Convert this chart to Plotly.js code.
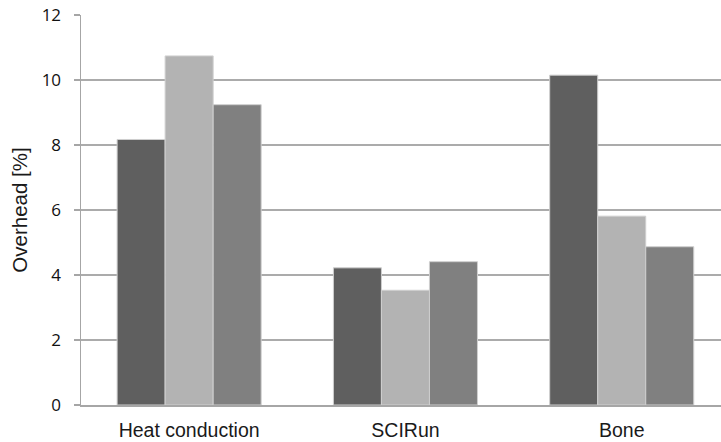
<!DOCTYPE html>
<html>
<head>
<meta charset="utf-8">
<script src="https://cdn.plot.ly/plotly-3.0.1.min.js"></script>
<style>html,body{margin:0;padding:0;background:#fff;}#chart{width:721px;height:442px;}</style>
</head>
<body>
<div id="chart"></div>
<script>
var categories = ["Heat conduction", "SCIRun", "Bone"];
var series1 = [8.17, 4.22, 10.15];
var series2 = [10.74, 3.53, 5.81];
var series3 = [9.24, 4.41, 4.87];
var seriesNames = ["Series 1", "Series 2", "Series 3"];
var seriesColors = ["#5f5f5f", "#b3b3b3", "#808080"];
var yTicks = [0, 2, 4, 6, 8, 10, 12];

var allSeries = [series1, series2, series3];
var traces = allSeries.map(function (vals, i) {
  return {
    type: "bar",
    name: seriesNames[i],
    x: categories,
    y: vals,
    marker: { color: seriesColors[i], line: { color: "#cfcfcf", width: 1 } },
    hoverinfo: "x+y"
  };
});

var layout = {
  width: 721,
  height: 442,
  margin: { l: 81, r: 0, t: 15, b: 37, pad: 0 },
  paper_bgcolor: "#ffffff",
  plot_bgcolor: "#ffffff",
  showlegend: false,
  barmode: "group",
  bargap: 0.334,
  bargroupgap: 0,
  font: { family: "Liberation Sans, Arial, sans-serif", color: "#222" },
  xaxis: {
    type: "category",
    range: [-0.5, 2.459],
    showgrid: false,
    showline: true,
    linecolor: "#a6a6a6",
    linewidth: 1.5,
    ticks: "",
    ticklabelstandoff: 7,
    tickfont: { family: "Liberation Sans, Arial, sans-serif", size: 19.5, color: "#1a1a1a" },
    zeroline: false
  },
  yaxis: {
    range: [0, 12],
    tickvals: yTicks,
    ticktext: yTicks.map(String),
    showgrid: true,
    gridcolor: "#ababab",
    gridwidth: 1.5,
    showline: true,
    linecolor: "#a6a6a6",
    linewidth: 1.5,
    ticks: "outside",
    ticklen: 6,
    tickwidth: 1.5,
    tickcolor: "#a6a6a6",
    ticklabelstandoff: 9,
    tickfont: { family: "Open Sans, sans-serif", size: 17, color: "#111111" },
    zeroline: false,
    title: { text: "Overhead [%]", font: { family: "Liberation Sans, Arial, sans-serif", size: 20.5, color: "#1a1a1a" }, standoff: 8 }
  }
};

Plotly.newPlot("chart", traces, layout, { displayModeBar: false, staticPlot: true });
</script>
</body>
</html>
